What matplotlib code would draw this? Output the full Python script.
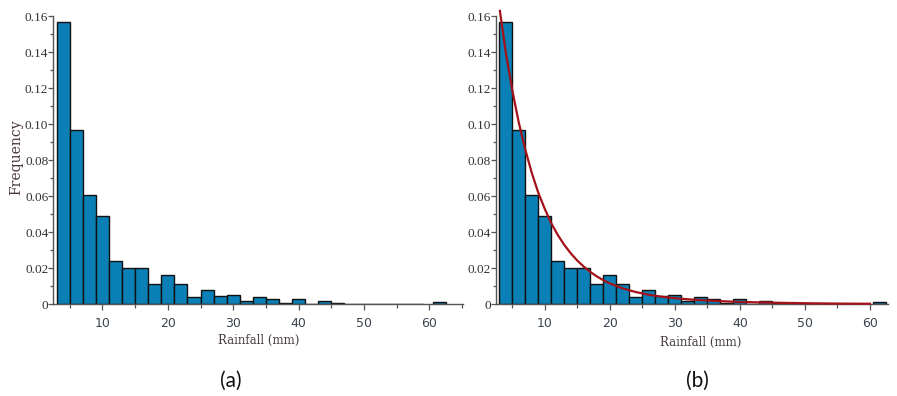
import matplotlib
matplotlib.use("Agg")
import matplotlib.pyplot as plt
from matplotlib.ticker import MultipleLocator, FixedLocator

# ---- data ----
bin_left = [3, 5, 7, 9, 11, 13, 15, 17, 19, 21, 23, 25, 27, 29, 31, 33, 35, 37, 39, 41,
            43, 45, 47, 49, 51, 53, 55, 57, 60.5]
bin_width = 2
freq = [0.157, 0.097, 0.061, 0.049, 0.024, 0.020, 0.020, 0.0115, 0.0165, 0.0115, 0.004,
        0.008, 0.0047, 0.0054, 0.002, 0.004, 0.0027, 0.001, 0.0027, 0.0, 0.002, 0.001,
        0.0, 0.0, 0.0, 0.0, 0.0, 0.0, 0.0013]

curve_x = [3.1, 4, 5, 6, 7, 8, 9, 10, 11, 12, 13, 14, 15, 16, 17, 18, 19, 20, 22, 24,
           26, 28, 30, 33, 36, 40, 45, 50, 55, 60]
curve_y = [0.163, 0.140, 0.119, 0.101, 0.086, 0.073, 0.062, 0.053, 0.045, 0.0385, 0.033,
           0.0283, 0.0243, 0.0209, 0.0180, 0.0155, 0.0134, 0.0116, 0.0088, 0.0068,
           0.0053, 0.0042, 0.0034, 0.0025, 0.0019, 0.0013, 0.0009, 0.0006, 0.0004, 0.0003]

xticks = [10, 20, 30, 40, 50, 60]
yticks = [0, 0.02, 0.04, 0.06, 0.08, 0.10, 0.12, 0.14, 0.16]
ytick_labels = ["0", "0.02", "0.04", "0.06", "0.08", "0.10", "0.12", "0.14", "0.16"]

BAR_COLOR = "#0a80b6"
CURVE_COLOR = "#a3121a"
AX_COLOR = "#555555"

W, H = 897, 396
fig = plt.figure(figsize=(W / 100, H / 100), dpi=100)


def make_axes(left_px, right_px, xmax):
    bottom_px = 304.3
    top_px = 16.3
    ax = fig.add_axes([left_px / W, (H - bottom_px) / H,
                       (right_px - left_px) / W, (bottom_px - top_px) / H])
    ax.bar(bin_left, freq, width=bin_width, align="edge", color=BAR_COLOR,
           edgecolor="#111111", linewidth=1.0, zorder=2)
    ax.set_xlim(2.5, xmax)
    ax.set_ylim(0, 0.16)
    for s in ("top", "right"):
        ax.spines[s].set_visible(False)
    for s in ("left", "bottom"):
        ax.spines[s].set_color(AX_COLOR)
        ax.spines[s].set_linewidth(1.0)
    ax.xaxis.set_major_locator(FixedLocator(xticks))
    ax.xaxis.set_minor_locator(MultipleLocator(5))
    ax.set_yticks(yticks)
    ax.set_yticklabels(ytick_labels)
    ax.yaxis.set_minor_locator(MultipleLocator(0.01))
    ax.tick_params(axis="x", which="major", direction="out", length=4, width=0.9,
                   color=AX_COLOR, pad=5, labelsize=9, labelcolor="#3a4550")
    ax.tick_params(axis="x", which="minor", direction="out", length=3, width=0.9,
                   color=AX_COLOR)
    ax.tick_params(axis="y", which="major", direction="out", length=3.5, width=0.9,
                   color=AX_COLOR, pad=0.2, labelsize=9.5, labelcolor="#333333")
    ax.tick_params(axis="y", which="minor", direction="out", length=2, width=0.9,
                   color=AX_COLOR)
    for lab in ax.get_xticklabels():
        lab.set_fontfamily("DejaVu Sans")
    for lab in ax.get_yticklabels():
        lab.set_fontfamily("Liberation Serif")
    ax.set_facecolor("white")
    return ax


ax1 = make_axes(53.4, 462.7, 65.1)
ax2 = make_axes(496.0, 888.0, 62.77)

ax2.plot(curve_x, curve_y, color=CURVE_COLOR, linewidth=1.6, zorder=3, clip_on=False,
         solid_joinstyle="round")

# texts
fig.text(16 / W, 1 - 157 / H, "Frequency", rotation=90, ha="center", va="center",
         fontsize=10, family="DejaVu Serif", color="#4a3838")
fig.text(259 / W, 1 - 340 / H, "Rainfall (mm)", ha="center", va="center",
         fontsize=8.5, family="DejaVu Serif", color="#4a4040")
fig.text(701 / W, 1 - 342 / H, "Rainfall (mm)", ha="center", va="center",
         fontsize=8.5, family="DejaVu Serif", color="#4a4040")
fig.text(231 / W, 1 - 381 / H, "(a)", ha="center", va="center",
         fontsize=15, family="Lato", color="#111111")
fig.text(697 / W, 1 - 381 / H, "(b)", ha="center", va="center",
         fontsize=15, family="Lato", color="#111111")

fig.savefig("out.png", dpi=100, facecolor="white")
